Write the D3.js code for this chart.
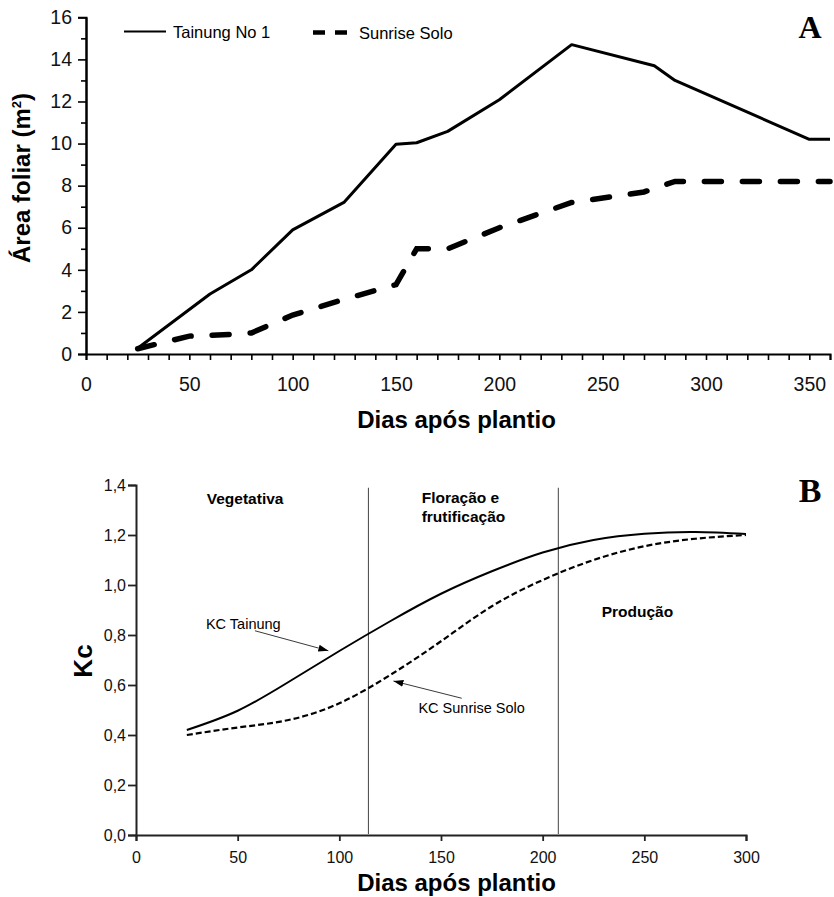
<!DOCTYPE html>
<html>
<head>
<meta charset="utf-8">
<script src="https://cdn.jsdelivr.net/npm/d3@7"></script>
<style>
  body { margin: 0; background: #fff; }
  svg { display: block; font-family: "Liberation Sans", Arial, sans-serif; }
</style>
</head>
<body>
<div id="chart"></div>
<script>
// panel A - leaf area
const tainungDays = [25, 60, 80, 100, 125, 150, 160, 175, 200, 235, 275, 285, 350, 360];
const tainungArea = [0.27, 2.85, 4.0, 5.9, 7.22, 9.97, 10.04, 10.58, 12.08, 14.7, 13.7, 13.0, 10.2, 10.2];
const sunriseDays = [25, 50, 75, 80, 100, 125, 150, 160, 175, 200, 235, 260, 270, 285, 360];
const sunriseArea = [0.25, 0.85, 0.95, 1.0, 1.85, 2.6, 3.3, 5.0, 5.0, 6.0, 7.2, 7.55, 7.7, 8.2, 8.2];
const legendLabels = ['Tainung No 1', 'Sunrise Solo'];

// panel B - crop coefficient
const kcDays = [25, 50, 75, 100, 125, 150, 175, 200, 225, 250, 275, 300];
const kcTainung = [0.42, 0.497, 0.612, 0.736, 0.855, 0.965, 1.055, 1.13, 1.18, 1.205, 1.212, 1.204];
const kcSunrise = [0.40, 0.43, 0.46, 0.527, 0.64, 0.775, 0.915, 1.02, 1.10, 1.155, 1.185, 1.20];
const phaseBounds = [114.3, 207.7];
const phaseLabels = [
  {lines: ['Vegetativa'], x: 34.8, y: 1.324},
  {lines: ['Floração e', 'frutificação'], x: 140.5, y: 1.328},
  {lines: ['Produção'], x: 229, y: 0.873}
];
const kcNotes = [
  {text: 'KC Tainung', x: 34.4, y: 0.826, from: [58.5, 0.817], to: [94.6, 0.737]},
  {text: 'KC Sunrise Solo', x: 138.9, y: 0.49, from: [160.2, 0.547], to: [126.6, 0.616]}
];

const papayaChart = (() => {
  let $svg;
  let width = 834,
      height = 897;

  const init = (el) => {
    if(el === null){
      console.log('CHART: ELEMENT CANNOT BE NULL');
      return false;
    }
    $svg = d3.select(el).append('svg')
      .attr('width', width)
      .attr('height', height);

    $svg.append('defs').append('marker')
      .attr('id', 'arrow')
      .attr('viewBox', '0 0 10 10')
      .attr('refX', 10).attr('refY', 5)
      .attr('markerWidth', 10).attr('markerHeight', 10)
      .attr('markerUnits', 'userSpaceOnUse')
      .attr('orient', 'auto')
      .append('path')
        .attr('d', 'M0,1.5 L10,5 L0,8.5 Z')
        .attr('fill', '#000');

    drawA();
    drawB();
  };

  //////////////////////////////////
  // PANEL A
  function drawA() {
    const x = d3.scaleLinear().domain([0, 360]).range([86, 830]);
    const y = d3.scaleLinear().domain([0, 16]).range([354, 17.3]);
    const g = $svg.append('g');

    g.append('g')
      .attr('transform', `translate(0,${y(0)})`)
      .call(d3.axisBottom(x)
        .tickValues(d3.range(0, 361, 10))
        .tickFormat(d => d % 50 === 0 ? d : '')
        .tickSizeOuter(0)
        .tickSize(6)
        .tickPadding(17));

    g.append('g')
      .attr('transform', `translate(${x(0)},0)`)
      .call(d3.axisLeft(y).tickValues(d3.range(1, 16, 2)).tickFormat('').tickSize(5).tickSizeOuter(0));

    g.append('g')
      .attr('transform', `translate(${x(0)},0)`)
      .call(d3.axisLeft(y)
        .tickValues(d3.range(0, 17, 2))
        .tickSizeOuter(0)
        .tickSize(8)
        .tickPadding(6));

    g.selectAll('.domain').attr('stroke', '#000').attr('stroke-width', 2);
    g.selectAll('.tick line').attr('stroke', '#000').attr('stroke-width', 1.6);
    g.selectAll('.tick text').attr('font-size', 19.5).attr('fill', '#111')
      .attr('font-family', '"Liberation Sans", Arial, sans-serif');

    const line = d3.line().x(d => x(d[0])).y(d => y(d[1]));

    g.append('path')
      .datum(d3.zip(tainungDays, tainungArea))
      .attr('d', line)
      .attr('fill', 'none')
      .attr('stroke', '#000')
      .attr('stroke-width', 3)
      .attr('stroke-linejoin', 'round');

    g.append('path')
      .datum(d3.zip(sunriseDays, sunriseArea))
      .attr('d', line)
      .attr('fill', 'none')
      .attr('stroke', '#000')
      .attr('stroke-width', 5.5)
      .attr('stroke-dasharray', '17,21')
      .attr('stroke-linecap', 'round');

    // legend
    const lg = g.append('g');
    lg.append('line').attr('x1', 124).attr('x2', 166).attr('y1', 31.5).attr('y2', 31.5)
      .attr('stroke', '#000').attr('stroke-width', 2.2);
    lg.append('text').attr('x', 173).attr('y', 37.5).attr('font-size', 16.5).text(legendLabels[0]);
    lg.append('line').attr('x1', 313).attr('x2', 348).attr('y1', 32.5).attr('y2', 32.5)
      .attr('stroke', '#000').attr('stroke-width', 4.5).attr('stroke-dasharray', '12,10');
    lg.append('text').attr('x', 359).attr('y', 39).attr('font-size', 16.5).text(legendLabels[1]);

    g.append('text')
      .attr('x', 456.5).attr('y', 428)
      .attr('text-anchor', 'middle')
      .attr('font-size', 24).attr('font-weight', 'bold')
      .text('Dias após plantio');

    const yt = g.append('text')
      .attr('transform', 'translate(30,178) rotate(-90)')
      .attr('text-anchor', 'middle')
      .attr('font-size', 24).attr('font-weight', 'bold');
    yt.append('tspan').text('Área foliar (m');
    yt.append('tspan').attr('dy', -9).attr('font-size', 13).text('2');
    yt.append('tspan').attr('dy', 9).text(')');

    g.append('text')
      .attr('x', 810).attr('y', 38)
      .attr('text-anchor', 'middle')
      .attr('font-family', '"Liberation Serif", "DejaVu Serif", serif')
      .attr('font-size', 32).attr('font-weight', 'bold')
      .text('A');
  }

  //////////////////////////////////
  // PANEL B
  function drawB() {
    const x = d3.scaleLinear().domain([0, 300]).range([136, 746]);
    const y = d3.scaleLinear().domain([0, 1.4]).range([835, 485]);
    const g = $svg.append('g');
    const comma = d3.formatLocale({decimal: ',', thousands: '.', grouping: [3], currency: ['', '']}).format('.1f');

    g.append('g')
      .attr('transform', `translate(0,${y(0)})`)
      .call(d3.axisBottom(x).ticks(6).tickSizeOuter(0).tickSize(6).tickPadding(11));

    g.append('g')
      .attr('transform', `translate(${x(0)},0)`)
      .call(d3.axisLeft(y).tickValues(d3.range(0, 1.41, 0.2)).tickFormat(comma)
        .tickSizeOuter(0).tickSize(8).tickPadding(2));

    g.selectAll('.domain').attr('stroke', '#222').attr('stroke-width', 2);
    g.selectAll('.tick line').attr('stroke', '#222').attr('stroke-width', 1.8);
    g.selectAll('.tick text').attr('font-size', 16).attr('fill', '#111')
      .attr('font-family', '"Liberation Sans", Arial, sans-serif');

    // phase boundaries
    g.selectAll('.phase')
      .data(phaseBounds)
      .enter().append('line')
        .attr('x1', d => x(d)).attr('x2', d => x(d))
        .attr('y1', y(1.389)).attr('y2', y(0) - 1)
        .attr('stroke', '#444').attr('stroke-width', 1);

    const curve = d3.line().curve(d3.curveNatural).x(d => x(d[0])).y(d => y(d[1]));

    g.append('path')
      .datum(d3.zip(kcDays, kcTainung))
      .attr('d', curve)
      .attr('fill', 'none')
      .attr('stroke', '#000')
      .attr('stroke-width', 2);

    g.append('path')
      .datum(d3.zip(kcDays, kcSunrise))
      .attr('d', curve)
      .attr('fill', 'none')
      .attr('stroke', '#000')
      .attr('stroke-width', 2.2)
      .attr('stroke-dasharray', '6,3');

    phaseLabels.forEach(p => {
      const t = g.append('text')
        .attr('x', x(p.x)).attr('y', y(p.y))
        .attr('font-size', 15.5).attr('font-weight', 'bold');
      p.lines.forEach((l, i) => {
        t.append('tspan').attr('x', x(p.x)).attr('dy', i === 0 ? 0 : 18.7).text(l);
      });
    });

    kcNotes.forEach(n => {
      g.append('text')
        .attr('x', x(n.x)).attr('y', y(n.y))
        .attr('font-size', 14.5)
        .text(n.text);
      g.append('line')
        .attr('x1', x(n.from[0])).attr('y1', y(n.from[1]))
        .attr('x2', x(n.to[0])).attr('y2', y(n.to[1]))
        .attr('stroke', '#222').attr('stroke-width', 0.9)
        .attr('marker-end', 'url(#arrow)');
    });

    g.append('text')
      .attr('x', 456.5).attr('y', 891)
      .attr('text-anchor', 'middle')
      .attr('font-size', 24).attr('font-weight', 'bold')
      .text('Dias após plantio');

    g.append('text')
      .attr('transform', 'translate(92,661) rotate(-90)')
      .attr('text-anchor', 'middle')
      .attr('font-size', 26).attr('font-weight', 'bold')
      .text('Kc');

    g.append('text')
      .attr('x', 810).attr('y', 502)
      .attr('text-anchor', 'middle')
      .attr('font-family', '"Liberation Serif", "DejaVu Serif", serif')
      .attr('font-size', 34).attr('font-weight', 'bold')
      .text('B');
  }

  return {
    init: init
  };
})();

papayaChart.init(document.getElementById('chart'));
</script>
</body>
</html>
